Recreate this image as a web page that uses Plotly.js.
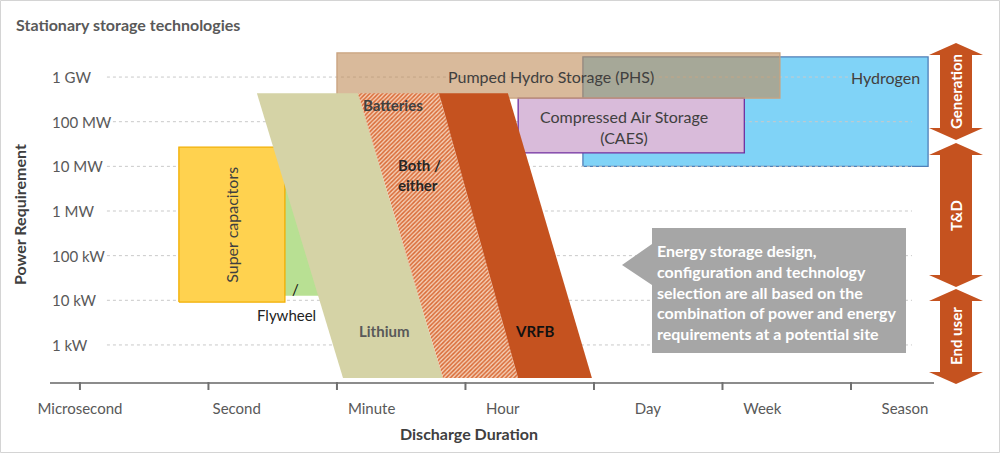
<!DOCTYPE html>
<html>
<head>
<meta charset="utf-8">
<script src="https://cdn.plot.ly/plotly-3.0.1.min.js"></script>
<style>html,body{margin:0;padding:0;background:#fff;}#chart{width:1000px;height:453px;}</style>
</head>
<body>
<div id="chart"></div>
<script>
// ---- axis categories / tick labels ----
const durationLabels = ['Microsecond', 'Second', 'Minute', 'Hour', 'Day', 'Week', 'Season'];
const durationTicks = [0, 1, 2, 3, 4, 5, 6];
const durationLabelPos = [0, 1.22, 2.27, 3.29, 4.42, 5.31, 6.42];
const powerLabels = ['1 kW', '10 kW', '100 kW', '1 MW', '10 MW', '100 MW', '1 GW'];
const powerTicks = [0, 1, 2, 3, 4, 5, 6];

// ---- technology regions (x: duration scale, y: log10 power scale, 0 = 1 kW) ----
const superCapX = [0.77, 1.595, 1.595, 0.77];
const superCapY = [0.96, 0.96, 4.43, 4.43];
const flywheelX = [1.40, 2.10, 2.10, 1.40];
const flywheelY = [1.10, 1.10, 4.00, 4.00];
const phsX = [2.00, 5.447, 5.447, 2.00];
const phsY = [5.53, 5.53, 6.54, 6.54];
const hydrogenX = [3.914, 6.60, 6.60, 3.914];
const hydrogenY = [4.00, 4.00, 6.45, 6.45];
const caesX = [3.41, 5.17, 5.17, 3.41];
const caesY = [4.30, 4.30, 5.53, 5.53];
const lithiumX = [1.377, 2.163, 2.825, 2.047];
const lithiumY = [5.64, 5.64, -0.74, -0.74];
const bothX = [2.163, 2.794, 3.409, 2.825];
const bothY = [5.64, 5.64, -0.74, -0.74];
const vrfbX = [2.794, 3.330, 3.984, 3.409];
const vrfbY = [5.64, 5.64, -0.74, -0.74];

// ---- layout geometry helpers (pixels -> paper) ----
const L = 50, R = 934, T = 40, B = 382;
const px = v => (v - L) / (R - L);
const py = v => (B - v) / (B - T);
const FONT = 'Lato, "Open Sans", sans-serif';

function poly(x, y, fill, line, extra) {
  return Object.assign({
    type: 'scatter', mode: 'lines', x: x.concat([x[0]]), y: y.concat([y[0]]),
    fill: 'toself', fillcolor: fill,
    line: { color: line || fill, width: line ? 1.3 : 0 },
    hoverinfo: 'skip', showlegend: false
  }, extra || {});
}

// gridlines as a trace so they sit above Hydrogen but below the rest
const gx = [], gy = [];
powerTicks.forEach(t => { gx.push(0.21, 6.475, null); gy.push(t, t, null); });

const traces = [
  poly(hydrogenX, hydrogenY, '#80D3F7', '#4F7FB8'),
  { type: 'scatter', mode: 'lines', x: gx, y: gy, line: { color: '#C9C9C9', width: 1, dash: 'dot' }, hoverinfo: 'skip', showlegend: false },
  poly(caesX, caesY, '#D9BBDA', '#7030A0'),
  poly(phsX, phsY, 'rgba(192,140,88,0.6)', '#C9A27E'),
  poly(flywheelX, flywheelY, '#B8E093'),
  poly(superCapX, superCapY, '#FFD24F', '#F2AE00'),
  poly(lithiumX, lithiumY, '#D5D3A6'),
  poly(bothX, bothY, '#F0C2A4', null, { fillpattern: { shape: '/', fgcolor: '#D96A36', bgcolor: '#F4CFB6', size: 3, solidity: 0.5 } }),
  poly(vrfbX, vrfbY, '#C5521F')
];

// ---- shapes ----
const shapes = [];
// outer frame
shapes.push({ type: 'rect', xref: 'paper', yref: 'paper', x0: px(0.5), x1: px(999.5), y0: py(0.5), y1: py(452.5), line: { color: '#D4D4D4', width: 1 }, fillcolor: 'rgba(0,0,0,0)', layer: 'below' });
// x tick marks
durationTicks.forEach(t => shapes.push({ type: 'line', xref: 'x', yref: 'paper', x0: t, x1: t, y0: 0, y1: py(390), line: { color: '#707070', width: 2 } }));
// callout
const co = [[652, 228], [906, 228], [906, 353], [652, 353], [652, 285], [622, 265], [652, 244]];
shapes.push({ type: 'path', xref: 'paper', yref: 'paper', path: 'M' + co.map(p => px(p[0]) + ',' + py(p[1])).join(' L') + ' Z', fillcolor: '#A6A6A6', line: { width: 0 } });
// double arrows
function dblArrow(top, bot) {
  const cx = 956, bh = 16, hh = 27, hl = 12;
  const pts = [[cx, top], [cx + hh, top + hl], [cx + bh, top + hl], [cx + bh, bot - hl], [cx + hh, bot - hl], [cx, bot], [cx - hh, bot - hl], [cx - bh, bot - hl], [cx - bh, top + hl], [cx - hh, top + hl]];
  return { type: 'path', xref: 'paper', yref: 'paper', path: 'M' + pts.map(p => px(p[0]) + ',' + py(p[1])).join(' L') + ' Z', fillcolor: '#C5521F', line: { width: 0 } };
}
shapes.push(dblArrow(43, 140), dblArrow(143, 287), dblArrow(289, 384));

// ---- annotations ----
const dark = '#404040';
function dl(text, x, y, opt) {
  return Object.assign({ text: text, x: x, y: y, xref: 'x', yref: 'y', xanchor: 'center', yanchor: 'middle', showarrow: false, font: { family: FONT, size: 16, color: dark } }, opt || {});
}
function pl(text, x, y, opt) {
  return Object.assign({ text: text, x: px(x), y: py(y), xref: 'paper', yref: 'paper', xanchor: 'center', yanchor: 'middle', showarrow: false, font: { family: FONT, size: 15, color: dark } }, opt || {});
}
const annotations = [
  pl('<b>Stationary storage technologies</b>', 14, 24, { xanchor: 'left', font: { family: FONT, size: 16, color: '#595959' } }),
  pl('<b>Power Requirement</b>', 19, 215, { textangle: -90, font: { family: FONT, size: 16, color: dark } }),
  pl('<b>Discharge Duration</b>', 469, 434, { font: { family: FONT, size: 16, color: dark } }),
  dl('Pumped Hydro Storage (PHS)', 3.665, 6.02),
  dl('Hydrogen', 6.265, 6.0),
  dl('Compressed Air Storage<br>(CAES)', 4.233, 4.88),
  dl('Super capacitors', 1.183, 2.69, { textangle: -90 }),
  dl('<b>Batteries</b>', 2.436, 5.37, { font: { family: FONT, size: 15, color: dark } }),
  dl('<b>Both /<br>either</b>', 2.646, 3.81, { align: 'left', font: { family: FONT, size: 15, color: '#262626' } }),
  dl('<b>Lithium</b>', 2.366, 0.31, { font: { family: FONT, size: 15, color: '#595959' } }),
  dl('<b>VRFB</b>', 3.541, 0.31, { font: { family: FONT, size: 15, color: '#111111' } }),
  dl('Flywheel', 1.611, 0.67, { font: { family: FONT, size: 15, color: '#222222' } }),
  dl('/', 1.681, 1.25, { font: { family: FONT, size: 15, color: '#111111' } }),
  pl('<b>Energy storage design,<br>configuration and technology<br>selection are all based on the<br>combination of power and energy<br>requirements at a potential site</b>', 655, 292, { xanchor: 'left', align: 'left', font: { family: FONT, size: 16, color: '#FFFFFF' } }),
  pl('<b>Generation</b>', 956, 91, { textangle: -90, font: { family: FONT, size: 15, color: '#FFFFFF' } }),
  pl('<b>T&amp;D</b>', 956, 215, { textangle: -90, font: { family: FONT, size: 15, color: '#FFFFFF' } }),
  pl('<b>End user</b>', 956, 336, { textangle: -90, font: { family: FONT, size: 15, color: '#FFFFFF' } })
];
// y-axis labels (left aligned, as in the reference)
powerTicks.forEach((t, i) => annotations.push({
  text: powerLabels[i], x: 0, y: t, xref: 'paper', yref: 'y', xanchor: 'left', yanchor: 'middle',
  showarrow: false, font: { family: FONT, size: 15, color: '#595959' }
}));

const layout = {
  width: 1000, height: 453,
  margin: { l: L, r: 1000 - R, t: T, b: 453 - B, pad: 0 },
  paper_bgcolor: '#FFFFFF', plot_bgcolor: 'rgba(0,0,0,0)',
  font: { family: FONT, size: 15, color: '#595959' },
  showlegend: false,
  xaxis: {
    range: [-0.233, 6.646], tickmode: 'array', tickvals: durationLabelPos, ticktext: durationLabels,
    ticks: '', showgrid: false, zeroline: false, showline: true, linecolor: '#8C8C8C', linewidth: 2,
    tickfont: { family: FONT, size: 15, color: '#595959' }, ticklabelstandoff: 12, fixedrange: true
  },
  yaxis: {
    range: [-0.83, 6.83], tickmode: 'array', tickvals: powerTicks, showticklabels: false,
    ticks: '', showgrid: false, zeroline: false, showline: false, fixedrange: true
  },
  shapes: shapes,
  annotations: annotations
};

Plotly.newPlot('chart', traces, layout, { staticPlot: true, displayModeBar: false });
</script>
</body>
</html>
